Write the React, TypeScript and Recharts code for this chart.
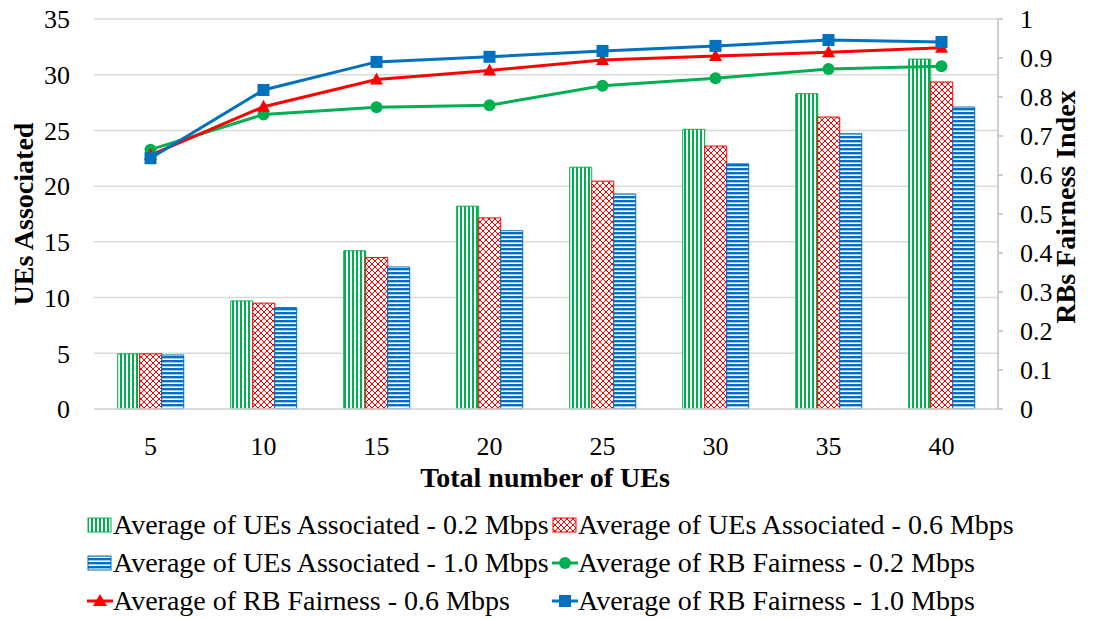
import React from "react";
import { ComposedChart, Bar, Line, XAxis, YAxis, CartesianGrid } from "recharts";

const totalUEs = ["5", "10", "15", "20", "25", "30", "35", "40"];
const assoc02 = [4.95, 9.7, 14.2, 18.2, 21.7, 25.1, 28.3, 31.4];
const assoc06 = [4.95, 9.5, 13.6, 17.15, 20.45, 23.6, 26.2, 29.35];
const assoc10 = [4.85, 9.1, 12.75, 16.0, 19.3, 22.0, 24.7, 27.1];
const fair02 = [0.665, 0.755, 0.774, 0.779, 0.829, 0.848, 0.872, 0.879];
const fair06 = [0.651, 0.775, 0.845, 0.868, 0.895, 0.905, 0.915, 0.926];
const fair10 = [0.643, 0.818, 0.89, 0.903, 0.918, 0.931, 0.946, 0.941];
const leftTicks = [0, 5, 10, 15, 20, 25, 30, 35];
const rightTicks = [0, 0.1, 0.2, 0.3, 0.4, 0.5, 0.6, 0.7, 0.8, 0.9, 1];

const GREEN = "#00B050";
const RED = "#FF0000";
const BLUE = "#0070C0";
const FONT = "Liberation Serif";

const data = totalUEs.map((t, i) => ({
	total: t,
	a02: assoc02[i],
	a06: assoc06[i],
	a10: assoc10[i],
	f02: fair02[i],
	f06: fair06[i],
	f10: fair10[i],
}));

const Patterns = () => (
	<svg width={0} height={0} style={{ position: "absolute" }}>
		<defs>
			<pattern id="pGreen" width={4} height={4} patternUnits="userSpaceOnUse">
				<rect width={4} height={4} fill="#fff" />
				<rect x={0} width={2} height={4} fill={GREEN} />
			</pattern>
			<pattern id="pRed" width={6} height={6} patternUnits="userSpaceOnUse">
				<rect width={6} height={6} fill="#fff" />
				<path d="M0,0 L6,6 M6,0 L0,6" stroke={RED} strokeWidth={1} />
			</pattern>
			<pattern id="pBlue" width={4} height={4} patternUnits="userSpaceOnUse">
				<rect width={4} height={4} fill="#fff" />
				<rect y={0} width={4} height={2.4} fill={BLUE} />
			</pattern>
		</defs>
	</svg>
);

const Triangle = (props: any) => {
	const { cx, cy } = props;
	if (cx == null || cy == null) return null;
	return <path d={`M${cx},${cy - 7} L${cx + 6.5},${cy + 5} L${cx - 6.5},${cy + 5} Z`} fill={RED} />;
};

const Square = (props: any) => {
	const { cx, cy } = props;
	if (cx == null || cy == null) return null;
	return <rect x={cx - 6} y={cy - 6} width={12} height={12} fill={BLUE} />;
};

const legendItems = [
	{ kind: "bar", fill: "url(#pGreen)", color: GREEN, text: "Average of UEs Associated - 0.2 Mbps" },
	{ kind: "bar", fill: "url(#pRed)", color: RED, text: "Average of UEs Associated - 0.6 Mbps" },
	{ kind: "bar", fill: "url(#pBlue)", color: BLUE, text: "Average of UEs Associated - 1.0 Mbps" },
	{ kind: "circle", color: GREEN, text: "Average of RB Fairness - 0.2 Mbps" },
	{ kind: "triangle", color: RED, text: "Average of RB Fairness - 0.6 Mbps" },
	{ kind: "square", color: BLUE, text: "Average of RB Fairness - 1.0 Mbps" },
];

const LegendIcon = ({ item }: { item: any }) => {
	if (item.kind === "bar") {
		return (
			<svg width={26} height={18} style={{ display: "block", flex: "none" }}>
				<rect x={1} y={2} width={23} height={14} fill={item.fill} stroke={item.color} strokeWidth={1} />
			</svg>
		);
	}
	return (
		<svg width={26} height={18} style={{ display: "block", flex: "none" }}>
			<line x1={0} y1={9} x2={26} y2={9} stroke={item.color} strokeWidth={3} />
			{item.kind === "circle" && <circle cx={13} cy={9} r={6} fill={item.color} />}
			{item.kind === "triangle" && <path d="M13,2 L20,14 L6,14 Z" fill={item.color} />}
			{item.kind === "square" && <rect x={7} y={3} width={12} height={12} fill={item.color} />}
		</svg>
	);
};

const ChartLegend = () => (
	<div
		style={{
			position: "absolute",
			left: 87,
			top: 506,
			display: "grid",
			gridTemplateColumns: "465px 470px",
			fontFamily: FONT,
			fontSize: 28,
			color: "#000",
		}}
	>
		{legendItems.map((item, i) => (
			<div key={i} style={{ display: "flex", alignItems: "center", height: 38, whiteSpace: "nowrap" }}>
				<LegendIcon item={item} />
				<span>{item.text}</span>
			</div>
		))}
	</div>
);

const App = () => {
	return (
		<div style={{ position: "absolute", left: 0, top: 0, width: 1094, height: 619, background: "#fff", fontFamily: FONT }}>
			<Patterns />
			<ComposedChart width={1094} height={619} data={data} margin={{ top: 19, right: 0, bottom: 119, left: 0 }} barCategoryGap="21%" barGap={0}>
				<CartesianGrid vertical={false} yAxisId="left" stroke="#d9d9d9" strokeWidth={1.5} />
				<XAxis
					dataKey="total"
					height={91}
					tickLine={false}
					tickSize={0}
					tickMargin={28}
					axisLine={{ stroke: "#d9d9d9", strokeWidth: 1.5 }}
					tick={{ fontSize: 26, fill: "#000", fontFamily: FONT }}
					label={{
						content: () => (
							<text x={545} y={487} textAnchor="middle" fontFamily={FONT} fontSize={28} fontWeight="bold" fill="#000">
								Total number of UEs
							</text>
						),
					}}
				/>
				<YAxis
					yAxisId="left"
					width={94}
					domain={[0, 35]}
					ticks={leftTicks}
					interval={0}
					axisLine={false}
					tickLine={false}
					tickSize={0}
					tickMargin={24}
					tick={{ fontSize: 26, fill: "#000", fontFamily: FONT }}
					label={{
						content: () => (
							<text x={33} y={214} transform="rotate(-90 33 214)" textAnchor="middle" fontFamily={FONT} fontSize={28} fontWeight="bold" fill="#000">
								UEs Associated
							</text>
						),
					}}
				/>
				<YAxis
					yAxisId="right"
					orientation="right"
					width={96}
					domain={[0, 1]}
					ticks={rightTicks}
					interval={0}
					axisLine={{ stroke: "#bfbfbf", strokeWidth: 1.5 }}
					tickLine={{ stroke: "#bfbfbf", strokeWidth: 1.5 }}
					tickSize={5}
					tickMargin={17}
					tick={{ fontSize: 26, fill: "#000", fontFamily: FONT }}
					label={{
						content: () => (
							<text x={1075} y={207} transform="rotate(-90 1075 207)" textAnchor="middle" fontFamily={FONT} fontSize={28} fontWeight="bold" fill="#000">
								RBs Fairness Index
							</text>
						),
					}}
				/>
				<Bar yAxisId="left" dataKey="a02" fill="url(#pGreen)" stroke={GREEN} strokeWidth={1} isAnimationActive={false} />
				<Bar yAxisId="left" dataKey="a06" fill="url(#pRed)" stroke={RED} strokeWidth={1} isAnimationActive={false} />
				<Bar yAxisId="left" dataKey="a10" fill="url(#pBlue)" stroke={BLUE} strokeWidth={1} isAnimationActive={false} />
				<Line yAxisId="right" type="linear" dataKey="f02" stroke={GREEN} strokeWidth={3} dot={{ r: 6, fill: GREEN, stroke: GREEN, strokeWidth: 0 }} isAnimationActive={false} />
				<Line yAxisId="right" type="linear" dataKey="f06" stroke={RED} strokeWidth={3} dot={<Triangle />} isAnimationActive={false} />
				<Line yAxisId="right" type="linear" dataKey="f10" stroke={BLUE} strokeWidth={3} dot={<Square />} isAnimationActive={false} />
			</ComposedChart>
			<ChartLegend />
		</div>
	);
};

export default App;
